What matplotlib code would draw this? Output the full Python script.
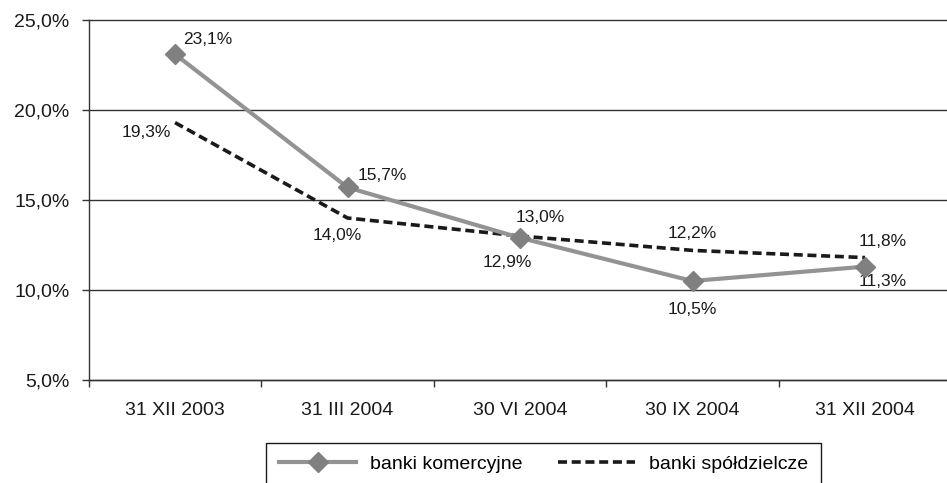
import matplotlib
matplotlib.use("Agg")
import matplotlib.pyplot as plt

plt.rcParams['font.family'] = ['Liberation Sans', 'DejaVu Sans']

categories = ['31 XII 2003', '31 III 2004', '30 VI 2004', '30 IX 2004', '31 XII 2004']
komercyjne = [23.1, 15.7, 12.9, 10.5, 11.3]
spoldzielcze = [19.3, 14.0, 13.0, 12.2, 11.8]
y_ticks = [5, 10, 15, 20, 25]

# label placement (offset in pixels, horizontal alignment)
kom_offsets = [((8, 15), 'left'), ((10, 12), 'left'), ((-13, -25), 'center'),
               ((0, -28), 'center'), ((18, -15), 'center')]
spol_offsets = [((-4, -10), 'right'), ((-10, -18), 'center'), ((20, 19), 'center'),
                ((0, 17), 'center'), ((18, 16), 'center')]


def pct(v):
    return f"{v:.1f}%".replace('.', ',')


fig = plt.figure(figsize=(9.47, 4.83), dpi=100)
ax = fig.add_axes([88.75 / 947, 103 / 483, 862.5 / 947, 360 / 483])

x = list(range(len(categories)))
ax.plot(x, spoldzielcze, color='#1a1a1a', lw=2.6, dashes=(2.5, 1.3),
        label='banki spółdzielcze', zorder=3)
ax.plot(x, komercyjne, color='#939393', lw=3.0, marker='D', markersize=10,
        markerfacecolor='#808080', markeredgecolor='#808080',
        label='banki komercyjne', zorder=4)

for xi, v, (off, ha) in zip(x, komercyjne, kom_offsets):
    ax.annotate(pct(v), (xi, v), xytext=off, textcoords='offset pixels',
                ha=ha, va='center', fontsize=12.5, color='#1a1a1a')
for xi, v, (off, ha) in zip(x, spoldzielcze, spol_offsets):
    ax.annotate(pct(v), (xi, v), xytext=off, textcoords='offset pixels',
                ha=ha, va='center', fontsize=12.5, color='#1a1a1a')

ax.set_xlim(-0.5, len(categories) - 0.5)
ax.set_ylim(5, 25)
ax.set_yticks(y_ticks)
ax.set_yticklabels([pct(t) for t in y_ticks], fontsize=14, color='#1a1a1a')
ax.set_xticks(x)
ax.set_xticklabels(categories, fontsize=14, color='#1a1a1a')
ax.set_xticks([i - 0.5 for i in range(len(categories) + 1)], minor=True)
ax.tick_params(axis='x', which='major', length=0, pad=16)
ax.tick_params(axis='x', which='minor', length=5, width=1, color='#333333')
ax.tick_params(axis='y', length=5, width=1, color='#333333', pad=9)

ax.yaxis.grid(True, color='#333333', lw=1)
for gl in ax.get_ygridlines():
    gl.set_clip_on(False)
ax.set_axisbelow(True)

for s in ['top', 'right']:
    ax.spines[s].set_visible(False)
for s in ['left', 'bottom']:
    ax.spines[s].set_color('#333333')
    ax.spines[s].set_linewidth(1)

handles, labels = ax.get_legend_handles_labels()
leg = fig.legend(handles[::-1], labels[::-1], loc='upper left',
                 bbox_to_anchor=(266 / 947, 40 / 483), ncol=2, fontsize=14,
                 frameon=True, fancybox=False, framealpha=1, edgecolor='#1a1a1a',
                 borderaxespad=0, borderpad=0.65, handlelength=4.0,
                 handletextpad=0.7, columnspacing=1.8)
leg.get_frame().set_linewidth(1)

fig.savefig('out.png', dpi=100)
